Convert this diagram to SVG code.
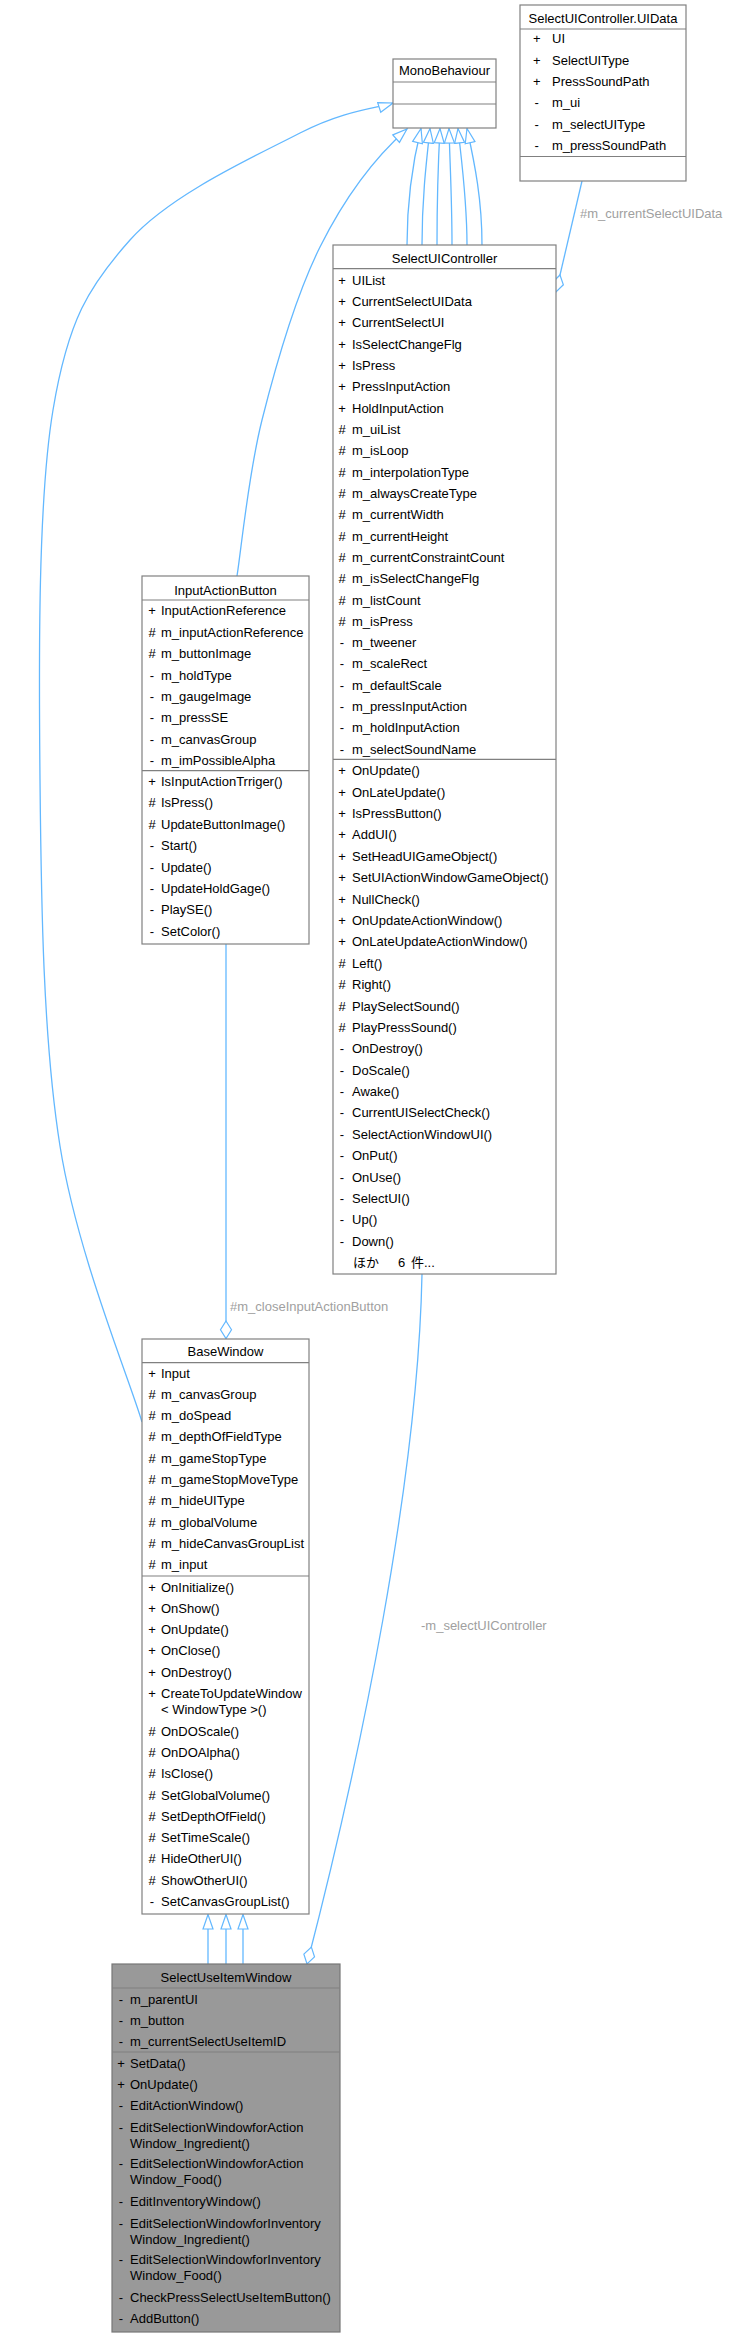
<svg xmlns="http://www.w3.org/2000/svg" width="730" height="2337" viewBox="0 0 730 2337">
<style>
.box{fill:#fff;stroke:#808080;stroke-width:1.2}
.gbox{fill:#999999;stroke:#777;stroke-width:1.2}
.sep{stroke:#808080;stroke-width:1.2}
text{font-family:"Liberation Sans",Arial,"Noto Sans CJK JP",sans-serif;font-size:13px;fill:#000}
.t{text-anchor:middle}
.s{text-anchor:middle}
.lbl{fill:#a0a0a0}
.e{fill:none;stroke:#63b8ff;stroke-width:1.3}
</style>
<defs>
<marker id="inh" markerUnits="userSpaceOnUse" markerWidth="17" markerHeight="13" viewBox="0 0 17 13" refX="15.5" refY="6.5" orient="auto">
<path d="M1,1.5 L15.5,6.5 L1,11.5 Z" fill="#fff" stroke="#63b8ff" stroke-width="1.2"/>
</marker>
<marker id="agg" markerUnits="userSpaceOnUse" markerWidth="20" markerHeight="14" viewBox="0 0 20 14" refX="18.5" refY="7" orient="auto">
<path d="M1,7 L9.75,1.5 L18.5,7 L9.75,12.5 Z" fill="#fff" stroke="#63b8ff" stroke-width="1.2"/>
</marker>
</defs>

<g id="edges">
<path class="e" marker-end="url(#inh)" d="M142,1422 C128.3,1376 77,1253 60,1146 C43,1039 41.2,902.7 40,780 C38.8,657.3 38,500 53,410 C68,320 88.8,286.2 130,240 C171.2,193.8 256.2,155.8 300,133 C343.8,110.2 377.5,108 393,103"/>
<path class="e" marker-end="url(#inh)" d="M237,576 C241.2,550 248.2,474.8 262,420 C275.8,365.2 295.8,295.5 320,247 C344.2,198.5 372,160 407,129"/>
<path class="e" marker-end="url(#inh)" d="M407,245 C407,200 412,165 421,128.5"/>
<path class="e" marker-end="url(#inh)" d="M422,245 C422,200 426,165 430,128.5"/>
<path class="e" marker-end="url(#inh)" d="M437,245 C437,200 438,165 440,128.5"/>
<path class="e" marker-end="url(#inh)" d="M452,245 C452,200 450,165 449,128.5"/>
<path class="e" marker-end="url(#inh)" d="M467,245 C467,200 462,165 458,128.5"/>
<path class="e" marker-end="url(#inh)" d="M482,245 C482,200 475,165 467,128.5"/>
<path class="e" marker-end="url(#agg)" d="M582,181 L556,292"/>
<path class="e" marker-end="url(#agg)" d="M226,944 L226,1338.5"/>
<path class="e" marker-end="url(#agg)" d="M422,1274 C418,1480 360,1760 307,1964"/>
<path class="e" marker-end="url(#inh)" d="M208,1964 L208,1914.5"/>
<path class="e" marker-end="url(#inh)" d="M226,1964 L226,1914.5"/>
<path class="e" marker-end="url(#inh)" d="M243,1964 L243,1914.5"/>
<text class="lbl" x="580" y="218">#m_currentSelectUIData</text>
<text class="lbl" x="230" y="1311">#m_closeInputActionButton</text>
<text class="lbl" x="421" y="1630">-m_selectUIController</text>
</g>

<g id="MonoBehaviour">
<rect class="box" x="393" y="59" width="103" height="69"/>
<line class="sep" x1="393" y1="82" x2="496" y2="82"/>
<line class="sep" x1="393" y1="104" x2="496" y2="104"/>
<text class="t" x="444.5" y="75">MonoBehaviour</text>
</g>

<g id="UIData">
<rect class="box" x="520" y="5" width="166" height="176"/>
<line class="sep" x1="520" y1="29" x2="686" y2="29"/>
<line class="sep" x1="520" y1="156.5" x2="686" y2="156.5"/>
<text class="t" x="603" y="22.5">SelectUIController.UIData</text>
<text y="43.3"><tspan class="s" x="536.7">+</tspan><tspan x="552">UI</tspan></text>
<text y="64.6"><tspan class="s" x="536.7">+</tspan><tspan x="552">SelectUIType</tspan></text>
<text y="85.9"><tspan class="s" x="536.7">+</tspan><tspan x="552">PressSoundPath</tspan></text>
<text y="107.2"><tspan class="s" x="536.7">-</tspan><tspan x="552">m_ui</tspan></text>
<text y="128.5"><tspan class="s" x="536.7">-</tspan><tspan x="552">m_selectUIType</tspan></text>
<text y="149.8"><tspan class="s" x="536.7">-</tspan><tspan x="552">m_pressSoundPath</tspan></text>
</g>

<g id="SelectUIController">
<rect class="box" x="333" y="245" width="223" height="1029"/>
<line class="sep" x1="333" y1="268.7" x2="556" y2="268.7"/>
<line class="sep" x1="333" y1="759.3" x2="556" y2="759.3"/>
<text class="t" x="444.5" y="263">SelectUIController</text>
<text y="284.5"><tspan class="s" x="342">+</tspan><tspan x="352">UIList</tspan></text>
<text y="305.8"><tspan class="s" x="342">+</tspan><tspan x="352">CurrentSelectUIData</tspan></text>
<text y="327.2"><tspan class="s" x="342">+</tspan><tspan x="352">CurrentSelectUI</tspan></text>
<text y="348.5"><tspan class="s" x="342">+</tspan><tspan x="352">IsSelectChangeFlg</tspan></text>
<text y="369.8"><tspan class="s" x="342">+</tspan><tspan x="352">IsPress</tspan></text>
<text y="391.2"><tspan class="s" x="342">+</tspan><tspan x="352">PressInputAction</tspan></text>
<text y="412.5"><tspan class="s" x="342">+</tspan><tspan x="352">HoldInputAction</tspan></text>
<text y="433.8"><tspan class="s" x="342">#</tspan><tspan x="352">m_uiList</tspan></text>
<text y="455.1"><tspan class="s" x="342">#</tspan><tspan x="352">m_isLoop</tspan></text>
<text y="476.5"><tspan class="s" x="342">#</tspan><tspan x="352">m_interpolationType</tspan></text>
<text y="497.8"><tspan class="s" x="342">#</tspan><tspan x="352">m_alwaysCreateType</tspan></text>
<text y="519.1"><tspan class="s" x="342">#</tspan><tspan x="352">m_currentWidth</tspan></text>
<text y="540.5"><tspan class="s" x="342">#</tspan><tspan x="352">m_currentHeight</tspan></text>
<text y="561.8"><tspan class="s" x="342">#</tspan><tspan x="352">m_currentConstraintCount</tspan></text>
<text y="583.1"><tspan class="s" x="342">#</tspan><tspan x="352">m_isSelectChangeFlg</tspan></text>
<text y="604.5"><tspan class="s" x="342">#</tspan><tspan x="352">m_listCount</tspan></text>
<text y="625.8"><tspan class="s" x="342">#</tspan><tspan x="352">m_isPress</tspan></text>
<text y="647.1"><tspan class="s" x="342">-</tspan><tspan x="352">m_tweener</tspan></text>
<text y="668.4"><tspan class="s" x="342">-</tspan><tspan x="352">m_scaleRect</tspan></text>
<text y="689.8"><tspan class="s" x="342">-</tspan><tspan x="352">m_defaultScale</tspan></text>
<text y="711.1"><tspan class="s" x="342">-</tspan><tspan x="352">m_pressInputAction</tspan></text>
<text y="732.4"><tspan class="s" x="342">-</tspan><tspan x="352">m_holdInputAction</tspan></text>
<text y="753.8"><tspan class="s" x="342">-</tspan><tspan x="352">m_selectSoundName</tspan></text>
<text y="775.3"><tspan class="s" x="342">+</tspan><tspan x="352">OnUpdate()</tspan></text>
<text y="796.7"><tspan class="s" x="342">+</tspan><tspan x="352">OnLateUpdate()</tspan></text>
<text y="818.1"><tspan class="s" x="342">+</tspan><tspan x="352">IsPressButton()</tspan></text>
<text y="839.4"><tspan class="s" x="342">+</tspan><tspan x="352">AddUI()</tspan></text>
<text y="860.8"><tspan class="s" x="342">+</tspan><tspan x="352">SetHeadUIGameObject()</tspan></text>
<text y="882.2"><tspan class="s" x="342">+</tspan><tspan x="352">SetUIActionWindowGameObject()</tspan></text>
<text y="903.6"><tspan class="s" x="342">+</tspan><tspan x="352">NullCheck()</tspan></text>
<text y="925"><tspan class="s" x="342">+</tspan><tspan x="352">OnUpdateActionWindow()</tspan></text>
<text y="946.3"><tspan class="s" x="342">+</tspan><tspan x="352">OnLateUpdateActionWindow()</tspan></text>
<text y="967.7"><tspan class="s" x="342">#</tspan><tspan x="352">Left()</tspan></text>
<text y="989.1"><tspan class="s" x="342">#</tspan><tspan x="352">Right()</tspan></text>
<text y="1010.5"><tspan class="s" x="342">#</tspan><tspan x="352">PlaySelectSound()</tspan></text>
<text y="1031.9"><tspan class="s" x="342">#</tspan><tspan x="352">PlayPressSound()</tspan></text>
<text y="1053.2"><tspan class="s" x="342">-</tspan><tspan x="352">OnDestroy()</tspan></text>
<text y="1074.6"><tspan class="s" x="342">-</tspan><tspan x="352">DoScale()</tspan></text>
<text y="1096"><tspan class="s" x="342">-</tspan><tspan x="352">Awake()</tspan></text>
<text y="1117.4"><tspan class="s" x="342">-</tspan><tspan x="352">CurrentUISelectCheck()</tspan></text>
<text y="1138.8"><tspan class="s" x="342">-</tspan><tspan x="352">SelectActionWindowUI()</tspan></text>
<text y="1160.1"><tspan class="s" x="342">-</tspan><tspan x="352">OnPut()</tspan></text>
<text y="1181.5"><tspan class="s" x="342">-</tspan><tspan x="352">OnUse()</tspan></text>
<text y="1202.9"><tspan class="s" x="342">-</tspan><tspan x="352">SelectUI()</tspan></text>
<text y="1224.3"><tspan class="s" x="342">-</tspan><tspan x="352">Up()</tspan></text>
<text y="1245.7"><tspan class="s" x="342">-</tspan><tspan x="352">Down()</tspan></text>
<text y="1267"><tspan x="353">ほか</tspan><tspan x="398">6</tspan><tspan x="411">件...</tspan></text>
</g>

<g id="InputActionButton">
<rect class="box" x="142" y="576" width="167" height="368"/>
<line class="sep" x1="142" y1="600" x2="309" y2="600"/>
<line class="sep" x1="142" y1="770.7" x2="309" y2="770.7"/>
<text class="t" x="225.5" y="595">InputActionButton</text>
<text y="615.3"><tspan class="s" x="152">+</tspan><tspan x="161">InputActionReference</tspan></text>
<text y="636.7"><tspan class="s" x="152">#</tspan><tspan x="161">m_inputActionReference</tspan></text>
<text y="658.1"><tspan class="s" x="152">#</tspan><tspan x="161">m_buttonImage</tspan></text>
<text y="679.5"><tspan class="s" x="152">-</tspan><tspan x="161">m_holdType</tspan></text>
<text y="700.9"><tspan class="s" x="152">-</tspan><tspan x="161">m_gaugeImage</tspan></text>
<text y="722.3"><tspan class="s" x="152">-</tspan><tspan x="161">m_pressSE</tspan></text>
<text y="743.7"><tspan class="s" x="152">-</tspan><tspan x="161">m_canvasGroup</tspan></text>
<text y="765.1"><tspan class="s" x="152">-</tspan><tspan x="161">m_imPossibleAlpha</tspan></text>
<text y="786"><tspan class="s" x="152">+</tspan><tspan x="161">IsInputActionTrriger()</tspan></text>
<text y="807.4"><tspan class="s" x="152">#</tspan><tspan x="161">IsPress()</tspan></text>
<text y="828.8"><tspan class="s" x="152">#</tspan><tspan x="161">UpdateButtonImage()</tspan></text>
<text y="850.2"><tspan class="s" x="152">-</tspan><tspan x="161">Start()</tspan></text>
<text y="871.6"><tspan class="s" x="152">-</tspan><tspan x="161">Update()</tspan></text>
<text y="893"><tspan class="s" x="152">-</tspan><tspan x="161">UpdateHoldGage()</tspan></text>
<text y="914.4"><tspan class="s" x="152">-</tspan><tspan x="161">PlaySE()</tspan></text>
<text y="935.8"><tspan class="s" x="152">-</tspan><tspan x="161">SetColor()</tspan></text>
</g>

<g id="BaseWindow">
<rect class="box" x="142" y="1339" width="167" height="575"/>
<line class="sep" x1="142" y1="1362.7" x2="309" y2="1362.7"/>
<line class="sep" x1="142" y1="1576" x2="309" y2="1576"/>
<text class="t" x="225.5" y="1356">BaseWindow</text>
<text y="1377.5"><tspan class="s" x="152">+</tspan><tspan x="161">Input</tspan></text>
<text y="1398.8"><tspan class="s" x="152">#</tspan><tspan x="161">m_canvasGroup</tspan></text>
<text y="1420.1"><tspan class="s" x="152">#</tspan><tspan x="161">m_doSpead</tspan></text>
<text y="1441.4"><tspan class="s" x="152">#</tspan><tspan x="161">m_depthOfFieldType</tspan></text>
<text y="1462.7"><tspan class="s" x="152">#</tspan><tspan x="161">m_gameStopType</tspan></text>
<text y="1484"><tspan class="s" x="152">#</tspan><tspan x="161">m_gameStopMoveType</tspan></text>
<text y="1505.3"><tspan class="s" x="152">#</tspan><tspan x="161">m_hideUIType</tspan></text>
<text y="1526.6"><tspan class="s" x="152">#</tspan><tspan x="161">m_globalVolume</tspan></text>
<text y="1547.9"><tspan class="s" x="152">#</tspan><tspan x="161">m_hideCanvasGroupList</tspan></text>
<text y="1569.2"><tspan class="s" x="152">#</tspan><tspan x="161">m_input</tspan></text>
<text y="1591.5"><tspan class="s" x="152">+</tspan><tspan x="161">OnInitialize()</tspan></text>
<text y="1612.8"><tspan class="s" x="152">+</tspan><tspan x="161">OnShow()</tspan></text>
<text y="1634.1"><tspan class="s" x="152">+</tspan><tspan x="161">OnUpdate()</tspan></text>
<text y="1655.4"><tspan class="s" x="152">+</tspan><tspan x="161">OnClose()</tspan></text>
<text y="1676.7"><tspan class="s" x="152">+</tspan><tspan x="161">OnDestroy()</tspan></text>
<text y="1698"><tspan class="s" x="152">+</tspan><tspan x="161">CreateToUpdateWindow</tspan><tspan x="161" y="1714">&lt; WindowType &gt;()</tspan></text>
<text y="1735.6"><tspan class="s" x="152">#</tspan><tspan x="161">OnDOScale()</tspan></text>
<text y="1756.9"><tspan class="s" x="152">#</tspan><tspan x="161">OnDOAlpha()</tspan></text>
<text y="1778.2"><tspan class="s" x="152">#</tspan><tspan x="161">IsClose()</tspan></text>
<text y="1799.5"><tspan class="s" x="152">#</tspan><tspan x="161">SetGlobalVolume()</tspan></text>
<text y="1820.8"><tspan class="s" x="152">#</tspan><tspan x="161">SetDepthOfField()</tspan></text>
<text y="1842.1"><tspan class="s" x="152">#</tspan><tspan x="161">SetTimeScale()</tspan></text>
<text y="1863.4"><tspan class="s" x="152">#</tspan><tspan x="161">HideOtherUI()</tspan></text>
<text y="1884.7"><tspan class="s" x="152">#</tspan><tspan x="161">ShowOtherUI()</tspan></text>
<text y="1906"><tspan class="s" x="152">-</tspan><tspan x="161">SetCanvasGroupList()</tspan></text>
</g>

<g id="SelectUseItemWindow">
<rect class="gbox" x="112" y="1964" width="228" height="368"/>
<line class="sep" x1="112" y1="1988" x2="340" y2="1988"/>
<line class="sep" x1="112" y1="2052" x2="340" y2="2052"/>
<text class="t" x="226" y="1982">SelectUseItemWindow</text>
<text y="2003.5"><tspan class="s" x="121">-</tspan><tspan x="130">m_parentUI</tspan></text>
<text y="2024.5"><tspan class="s" x="121">-</tspan><tspan x="130">m_button</tspan></text>
<text y="2046.3"><tspan class="s" x="121">-</tspan><tspan x="130">m_currentSelectUseItemID</tspan></text>
<text y="2067.7"><tspan class="s" x="121">+</tspan><tspan x="130">SetData()</tspan></text>
<text y="2088.5"><tspan class="s" x="121">+</tspan><tspan x="130">OnUpdate()</tspan></text>
<text y="2110.3"><tspan class="s" x="121">-</tspan><tspan x="130">EditActionWindow()</tspan></text>
<text y="2131.7"><tspan class="s" x="121">-</tspan><tspan x="130">EditSelectionWindowforAction</tspan><tspan x="130" y="2147.7">Window_Ingredient()</tspan></text>
<text y="2168.3"><tspan class="s" x="121">-</tspan><tspan x="130">EditSelectionWindowforAction</tspan><tspan x="130" y="2184.3">Window_Food()</tspan></text>
<text y="2206.3"><tspan class="s" x="121">-</tspan><tspan x="130">EditInventoryWindow()</tspan></text>
<text y="2227.7"><tspan class="s" x="121">-</tspan><tspan x="130">EditSelectionWindowforInventory</tspan><tspan x="130" y="2243.7">Window_Ingredient()</tspan></text>
<text y="2264.3"><tspan class="s" x="121">-</tspan><tspan x="130">EditSelectionWindowforInventory</tspan><tspan x="130" y="2280.3">Window_Food()</tspan></text>
<text y="2302.3"><tspan class="s" x="121">-</tspan><tspan x="130">CheckPressSelectUseItemButton()</tspan></text>
<text y="2323"><tspan class="s" x="121">-</tspan><tspan x="130">AddButton()</tspan></text>
</g>
</svg>
